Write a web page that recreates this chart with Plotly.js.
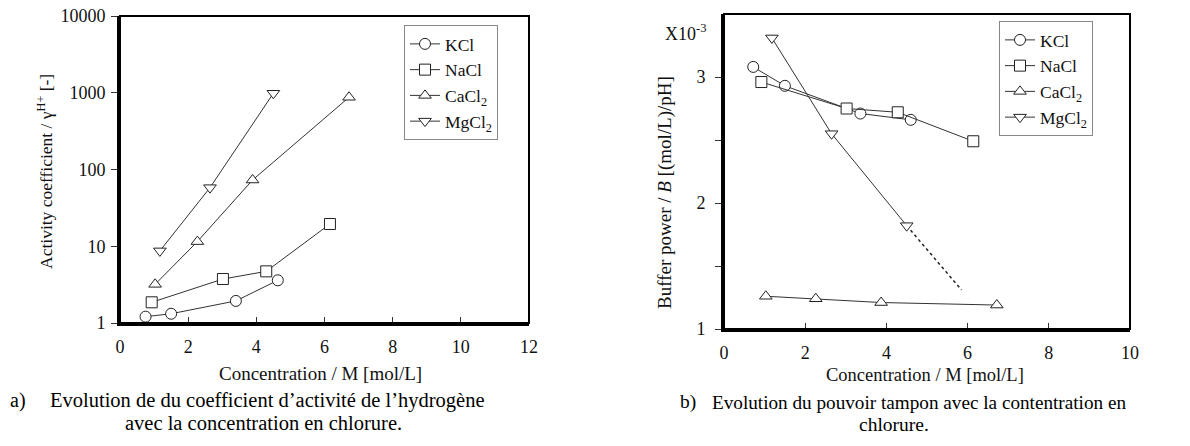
<!DOCTYPE html>
<html>
<head>
<meta charset="utf-8">
<script src="https://cdn.plot.ly/plotly-3.0.1.min.js"></script>
<style>html,body{margin:0;padding:0;background:#fff;}#chart{width:1190px;height:446px;}</style>
</head>
<body>
<div id="chart"></div>
<script>
// ---- Data: (a) activity coefficient of H+ vs chloride concentration ----
const seriesNames = ['KCl', 'NaCl', 'CaCl<sub>2</sub>', 'MgCl<sub>2</sub>'];
const kclXa = [0.75, 1.5, 3.4, 4.63];
const kclYa = [1.21, 1.32, 1.94, 3.6];
const naclXa = [0.93, 3.02, 4.29, 6.16];
const naclYa = [1.86, 3.74, 4.71, 19.5];
const cacl2Xa = [1.03, 2.27, 3.89, 6.72];
const cacl2Ya = [3.19, 11.5, 73, 873];
const mgcl2Xa = [1.17, 2.64, 4.5];
const mgcl2Ya = [8.7, 58, 985];

// ---- Data: (b) buffer power (x10^-3) vs chloride concentration ----
const kclXb = [0.72, 1.5, 3.36, 4.6];
const kclYb = [3.08, 2.93, 2.71, 2.66];
const naclXb = [0.92, 3.02, 4.28, 6.14];
const naclYb = [2.96, 2.75, 2.72, 2.49];
const cacl2Xb = [1.03, 2.26, 3.87, 6.72];
const cacl2Yb = [1.26, 1.24, 1.21, 1.19];
const mgcl2Xb = [1.18, 2.65, 4.5];
const mgcl2Yb = [3.31, 2.55, 1.82];
const mgcl2ExtXb = [4.5, 5.85];
const mgcl2ExtYb = [1.82, 1.31];

// tick labels
const yTickValsA = [1, 10, 100, 1000, 10000];
const yTickTextA = ['1', '10', '100', '1000', '10000'];
const xTickValsA = [0, 2, 4, 6, 8, 10, 12];
const yTickValsB = [1, 2, 3];
const yMinorTickValsB = [1.5, 2.5];
const xTickValsB = [0, 2, 4, 6, 8, 10];

const W = 1190, H = 446;
const FONT = 'Liberation Serif, Times New Roman, serif';
const symbols = ['circle', 'square', 'triangle-up', 'triangle-down'];
const lineColor = '#333';

function mk(x, y, i, xa, ya, legend, showlegend) {
  return {
    x: x, y: y, type: 'scatter', mode: 'lines+markers', name: seriesNames[i],
    xaxis: xa, yaxis: ya, legend: legend, showlegend: showlegend,
    line: {color: lineColor, width: 1},
    marker: {symbol: symbols[i], size: 11, color: '#fff', line: {color: '#222', width: 1}},
    hoverinfo: 'x+y'
  };
}

const traces = [
  mk(kclXa, kclYa, 0, 'x', 'y', 'legend', true),
  mk(naclXa, naclYa, 1, 'x', 'y', 'legend', true),
  mk(cacl2Xa, cacl2Ya, 2, 'x', 'y', 'legend', true),
  mk(mgcl2Xa, mgcl2Ya, 3, 'x', 'y', 'legend', true),
  {x: mgcl2ExtXb, y: mgcl2ExtYb, type: 'scatter', mode: 'lines', xaxis: 'x2', yaxis: 'y2',
   showlegend: false, line: {color: '#222', width: 1.5, dash: 'dot'}, hoverinfo: 'skip'},
  mk(kclXb, kclYb, 0, 'x2', 'y2', 'legend2', true),
  mk(naclXb, naclYb, 1, 'x2', 'y2', 'legend2', true),
  mk(cacl2Xb, cacl2Yb, 2, 'x2', 'y2', 'legend2', true),
  mk(mgcl2Xb, mgcl2Yb, 3, 'x2', 'y2', 'legend2', true)
];

const px = v => v / W;
const py = v => 1 - v / H;

const axisCommon = {
  showline: true, linecolor: '#000', linewidth: 3, showgrid: false, zeroline: false,
  tickfont: {family: FONT, size: 18, color: '#111'}, tickcolor: '#333', ticklen: 6,
  automargin: false, fixedrange: true
};

const legendCommon = {
  xanchor: 'left', yanchor: 'top',
  bgcolor: '#fff', bordercolor: '#888', borderwidth: 1,
  font: {family: FONT, size: 17.5, color: '#111'}, tracegroupgap: 0, itemwidth: 30
};

const layout = {
  width: W, height: H,
  margin: {l: 0, r: 0, t: 0, b: 0},
  paper_bgcolor: '#fff', plot_bgcolor: '#fff',
  font: {family: FONT, size: 18, color: '#111'},
  xaxis: Object.assign({}, axisCommon, {
    domain: [px(120), px(529)], range: [0, 12], tickvals: xTickValsA, ticks: 'inside',
    anchor: 'y', ticklabelstandoff: 5
  }),
  yaxis: Object.assign({}, axisCommon, {
    domain: [py(323), py(16)], type: 'log', range: [0, 4], tickvals: yTickValsA, ticktext: yTickTextA,
    ticks: 'outside', anchor: 'x', ticklabelstandoff: 2
  }),
  xaxis2: Object.assign({}, axisCommon, {
    domain: [px(724), px(1130)], range: [0, 10], tickvals: xTickValsB, ticks: 'inside',
    anchor: 'y2', ticklabelstandoff: 5
  }),
  yaxis2: Object.assign({}, axisCommon, {
    domain: [py(329), py(14)], range: [1, 3.5], tickvals: yTickValsB,
    ticks: 'outside', anchor: 'x2', ticklabelstandoff: 6,
    minor: {tickvals: yMinorTickValsB, ticks: 'outside', ticklen: 6, tickcolor: '#333', showgrid: false}
  }),
  legend: Object.assign({}, legendCommon, {x: px(404), y: py(25)}),
  legend2: Object.assign({}, legendCommon, {x: px(999), y: py(21)}),
  shapes: [
    {type: 'rect', xref: 'x domain', yref: 'y domain', x0: 0, x1: 1, y0: 0, y1: 1,
     line: {color: '#000', width: 2}, layer: 'above'},
    {type: 'rect', xref: 'x2 domain', yref: 'y2 domain', x0: 0, x1: 1, y0: 0, y1: 1,
     line: {color: '#000', width: 2}, layer: 'above'}
  ],
  annotations: [
    {text: 'Activity coefficient / γ<sup>H+</sup> [-]', textangle: -90, xref: 'paper', yref: 'paper',
     x: px(45), y: py(172), xanchor: 'center', yanchor: 'middle', showarrow: false,
     font: {family: FONT, size: 17.5, color: '#111'}},
    {text: 'Concentration / M [mol/L]', xref: 'paper', yref: 'paper',
     x: px(320), y: py(373), xanchor: 'center', yanchor: 'middle', showarrow: false,
     font: {family: FONT, size: 19, color: '#111'}},
    {text: 'Buffer power / <i>B</i> [(mol/L)/pH]', textangle: -90, xref: 'paper', yref: 'paper',
     x: px(665), y: py(193), xanchor: 'center', yanchor: 'middle', showarrow: false,
     font: {family: FONT, size: 19, color: '#111'}},
    {text: 'Concentration / M [mol/L]', xref: 'paper', yref: 'paper',
     x: px(925), y: py(375), xanchor: 'center', yanchor: 'middle', showarrow: false,
     font: {family: FONT, size: 18.5, color: '#111'}},
    {text: 'X10<sup>-3</sup>', xref: 'paper', yref: 'paper',
     x: px(709), y: py(33), xanchor: 'right', yanchor: 'middle', showarrow: false,
     font: {family: FONT, size: 18, color: '#111'}},
    {text: 'a)', xref: 'paper', yref: 'paper', x: px(8), y: py(400), xanchor: 'left', yanchor: 'middle',
     showarrow: false, font: {family: FONT, size: 20, color: '#000'}},
    {text: 'Evolution de du coefficient d’activité de l’hydrogène', xref: 'paper', yref: 'paper',
     x: px(48), y: py(400), xanchor: 'left', yanchor: 'middle',
     showarrow: false, font: {family: FONT, size: 20.5, color: '#000'}},
    {text: 'avec la concentration en chlorure.', xref: 'paper', yref: 'paper',
     x: px(263), y: py(423), xanchor: 'center', yanchor: 'middle',
     showarrow: false, font: {family: FONT, size: 20.5, color: '#000'}},
    {text: 'b)', xref: 'paper', yref: 'paper', x: px(678), y: py(402), xanchor: 'left', yanchor: 'middle',
     showarrow: false, font: {family: FONT, size: 19.5, color: '#000'}},
    {text: 'Evolution du pouvoir tampon avec la contentration en', xref: 'paper', yref: 'paper',
     x: px(710), y: py(402), xanchor: 'left', yanchor: 'middle',
     showarrow: false, font: {family: FONT, size: 19.2, color: '#000'}},
    {text: 'chlorure.', xref: 'paper', yref: 'paper',
     x: px(894), y: py(424), xanchor: 'center', yanchor: 'middle',
     showarrow: false, font: {family: FONT, size: 19.5, color: '#000'}}
  ]
};

Plotly.newPlot('chart', traces, layout, {displayModeBar: false, staticPlot: true});
</script>
</body>
</html>
